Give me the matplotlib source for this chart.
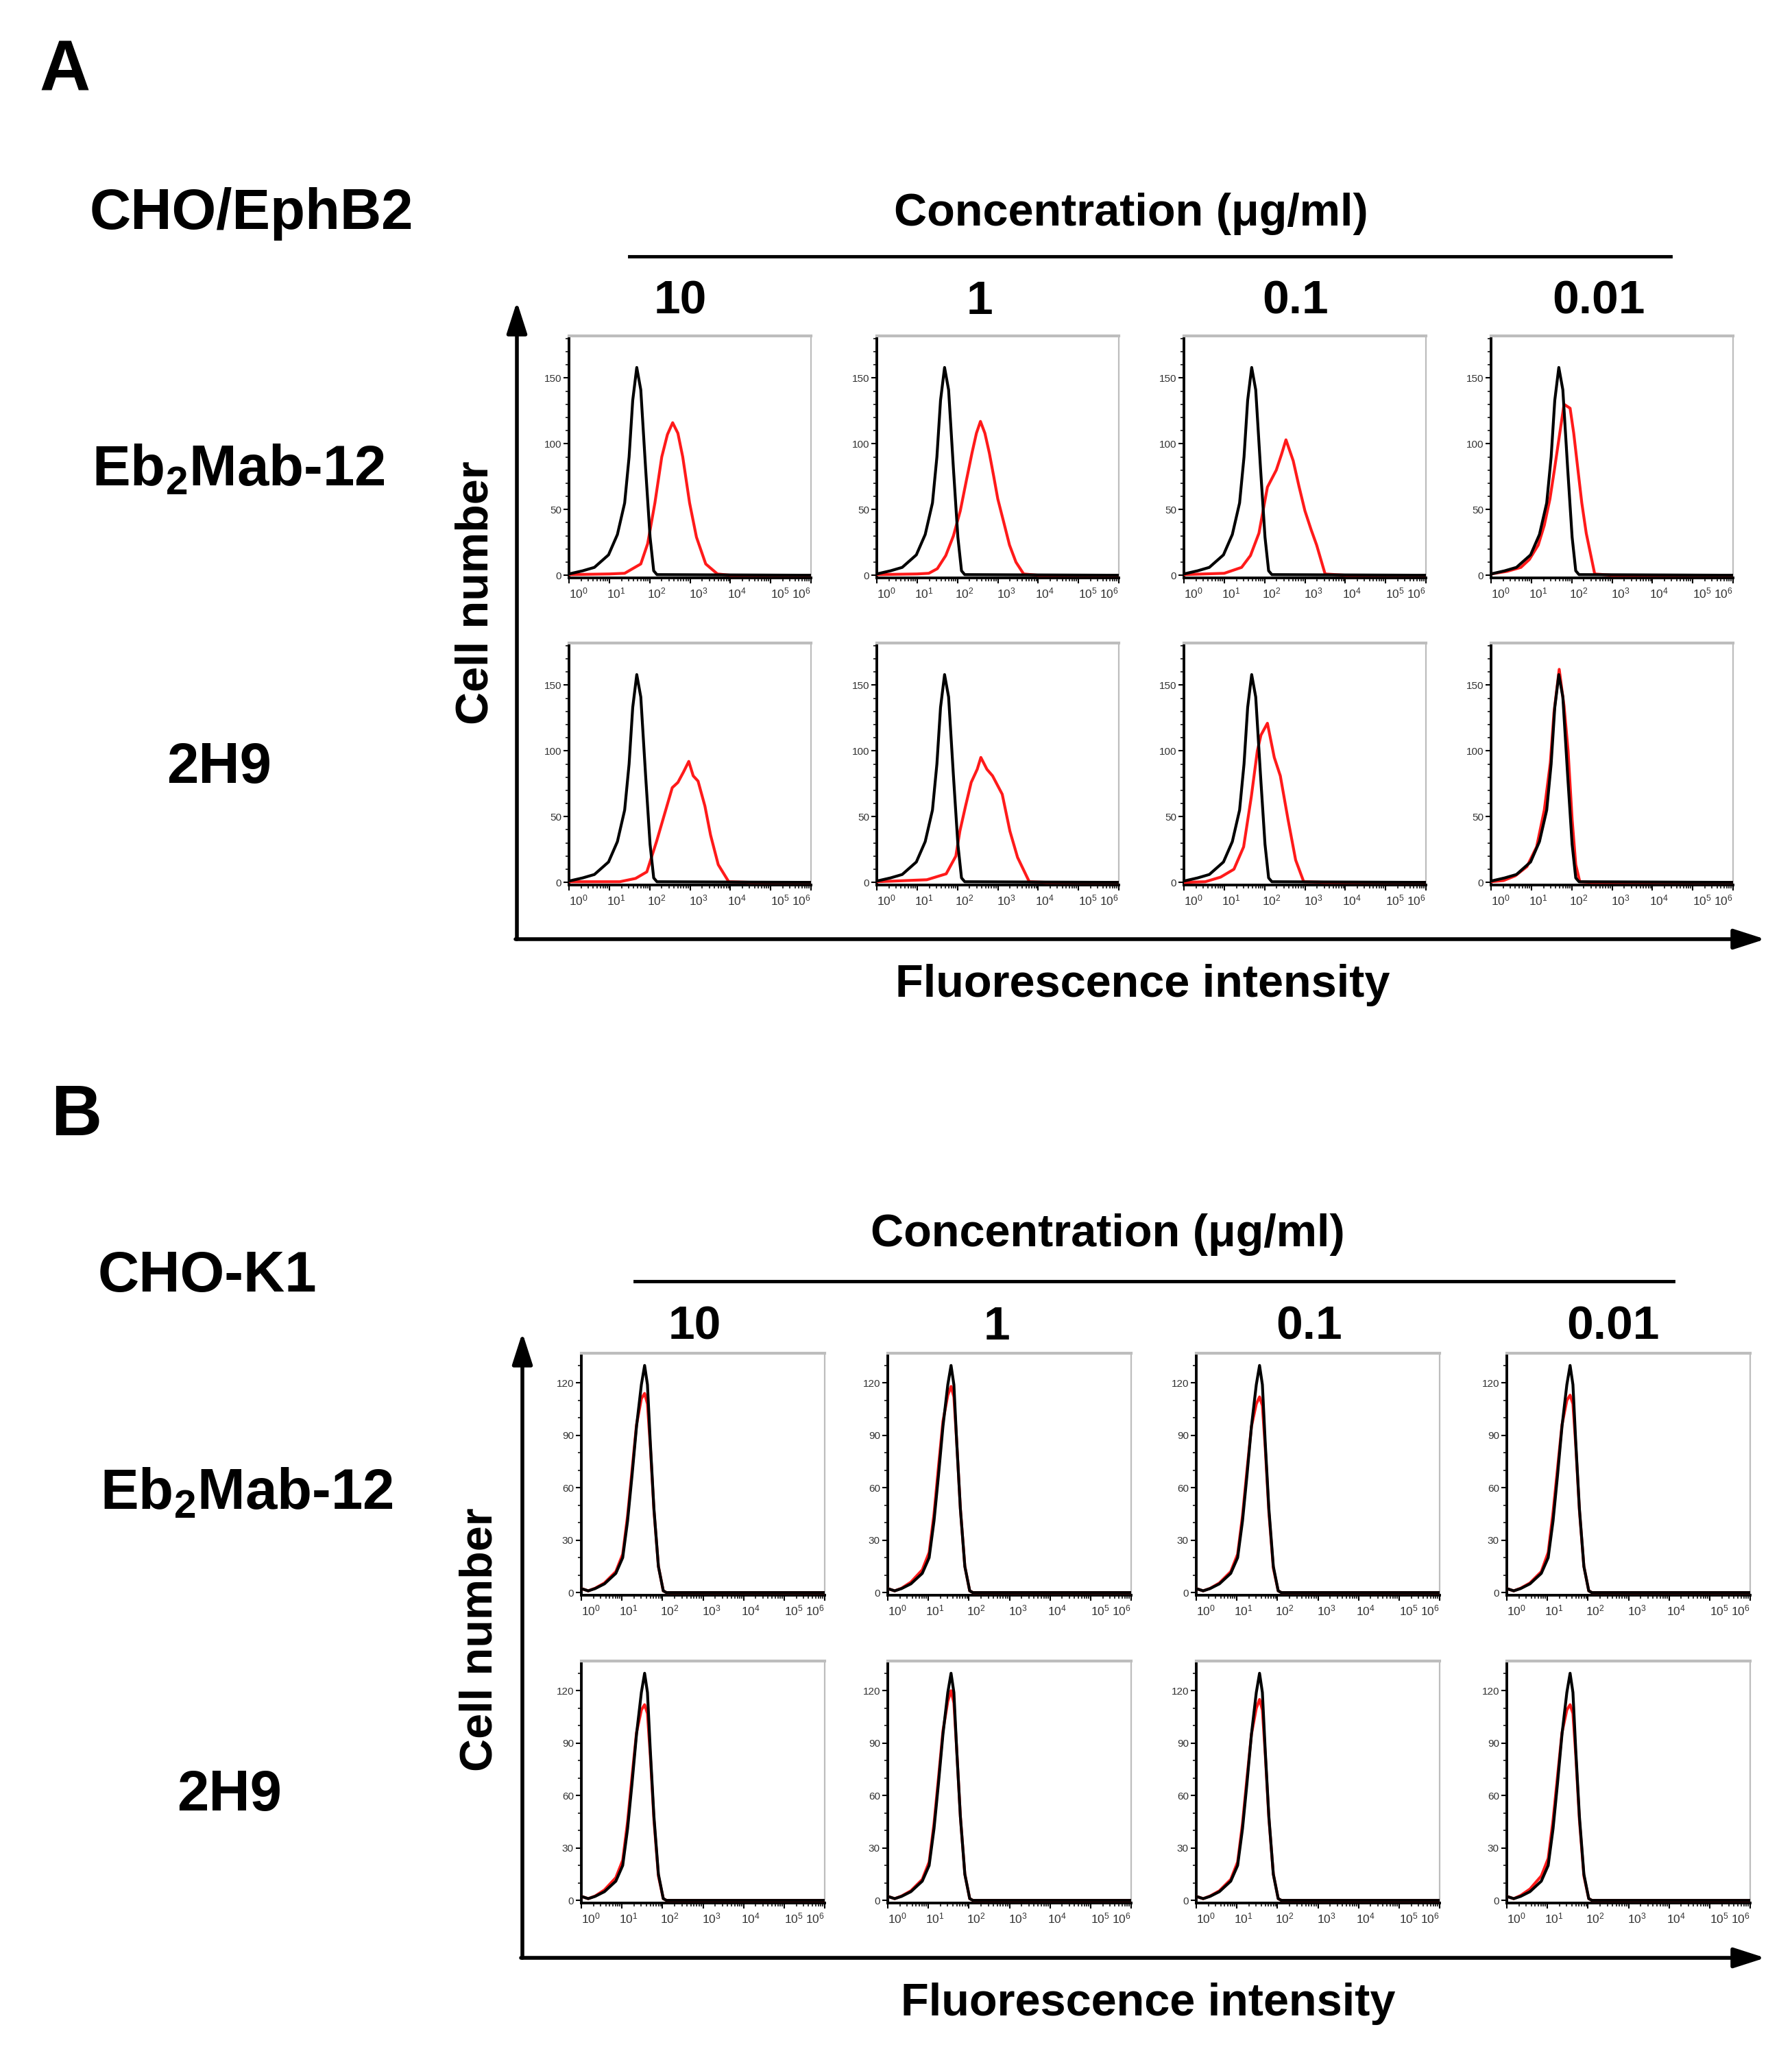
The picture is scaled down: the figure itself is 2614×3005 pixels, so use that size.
import numpy as np
import matplotlib
matplotlib.use('Agg')
import matplotlib.pyplot as plt
from matplotlib.ticker import FixedLocator, MultipleLocator, LogLocator, NullFormatter
from matplotlib.transforms import ScaledTranslation
from matplotlib.patches import FancyArrowPatch

plt.rcParams['font.family'] = ['Liberation Sans', 'DejaVu Sans']
plt.rcParams['mathtext.fontset'] = 'custom'
plt.rcParams['mathtext.rm'] = 'Liberation Sans'
plt.rcParams['mathtext.bf'] = 'Liberation Sans:bold'
plt.rcParams['mathtext.it'] = 'Liberation Sans:italic'

# ---------------- data ----------------
concentrations = ['10', '1', '0.1', '0.01']
antibodies = ['Eb$_\\mathbf{2}$Mab-12', '2H9']
cell_lines = ['CHO/EphB2', 'CHO-K1']
a_yticks = [0, 50, 100, 150]
b_yticks = [0, 30, 60, 90, 120]
x_decades = [0, 1, 2, 3, 4, 5, 6]

# x values are log10(fluorescence intensity)
# Panel A, control (black) curve, same in every panel
a_ctrl_x = [0.0, 0.34, 0.63, 0.98, 1.2, 1.38, 1.49, 1.58, 1.68, 1.78, 1.9, 2.01, 2.1, 2.18, 6.0]
a_ctrl_y = [1, 3.4, 6, 15.5, 31, 55, 90, 133, 158, 141, 81, 29, 3.4, 0.5, 0]

# Panel A, antibody (red) curves: row Eb2Mab-12
a_r1c1_x = [0.0, 1.0, 1.38, 1.78, 1.95, 2.13, 2.3, 2.44, 2.57, 2.7, 2.82, 2.99, 3.16, 3.39, 3.68, 4.0, 6.0]
a_r1c1_y = [0.5, 1, 1.5, 8.6, 24, 55, 90, 107, 116, 108, 90, 55, 29, 8.6, 1, 0, 0]
a_r1c2_x = [0.0, 1.0, 1.29, 1.5, 1.71, 1.9, 2.07, 2.22, 2.36, 2.47, 2.57, 2.68, 2.79, 2.9, 3.0, 3.15, 3.29, 3.45, 3.64, 4.0, 6.0]
a_r1c2_y = [0.5, 1, 1.5, 5, 15, 30, 49, 72, 93, 108, 117, 108, 93, 75, 58, 40, 23, 10, 1, 0, 0]
a_r1c3_x = [0.0, 1.0, 1.43, 1.65, 1.86, 2.07, 2.29, 2.42, 2.53, 2.62, 2.71, 2.85, 3.0, 3.15, 3.29, 3.5, 4.0, 6.0]
a_r1c3_y = [0.5, 1.5, 6, 15, 32, 67, 80, 92, 103, 95, 87, 68, 49, 35, 23, 1, 0, 0]
a_r1c4_x = [0.0, 0.4, 0.74, 0.95, 1.17, 1.32, 1.46, 1.57, 1.67, 1.81, 1.96, 2.05, 2.14, 2.25, 2.36, 2.57, 3.0, 6.0]
a_r1c4_y = [1, 3, 6, 12, 23, 38, 58, 80, 101, 130, 127, 108, 84, 55, 32, 1, 0, 0]
# Panel A, antibody (red) curves: row 2H9
a_r2c1_x = [0.0, 1.26, 1.65, 1.93, 2.17, 2.36, 2.56, 2.7, 2.84, 2.97, 3.08, 3.2, 3.37, 3.51, 3.7, 3.96, 4.5, 6.0]
a_r2c1_y = [0.5, 0.5, 3, 8, 31, 51, 72, 76, 84, 92, 81, 77, 58, 36, 13.5, 0.5, 0, 0]
a_r2c2_x = [0.0, 1.24, 1.72, 1.96, 2.06, 2.2, 2.34, 2.49, 2.58, 2.73, 2.87, 3.11, 3.3, 3.49, 3.78, 4.2, 6.0]
a_r2c2_y = [0.5, 2, 6.5, 20, 39, 58, 76, 86, 95, 86, 81, 67, 39, 19, 0.5, 0, 0]
a_r2c3_x = [0.0, 0.53, 0.91, 1.24, 1.48, 1.67, 1.82, 1.91, 2.07, 2.24, 2.39, 2.58, 2.77, 2.97, 3.5, 6.0]
a_r2c3_y = [0, 0.5, 4, 10, 27, 65, 100, 112, 121, 95, 81, 48, 17, 0.5, 0, 0]
a_r2c4_x = [0.0, 0.31, 0.6, 0.89, 1.13, 1.32, 1.47, 1.56, 1.69, 1.81, 1.91, 2.01, 2.1, 2.2, 2.5, 6.0]
a_r2c4_y = [0.5, 1.4, 5, 12, 27, 55, 91, 129, 162, 134, 100, 48, 13.5, 0.5, 0, 0]

# Panel B, control (black) curve
b_ctrl_x = [0.0, 0.17, 0.34, 0.57, 0.85, 1.02, 1.14, 1.25, 1.36, 1.48, 1.56, 1.63, 1.7, 1.79, 1.9, 2.02, 2.1, 6.0]
b_ctrl_y = [2.3, 1, 2.3, 5, 11, 20, 41, 67, 95, 119, 130, 119, 86, 48, 15, 1, 0, 0]
# Panel B, antibody (red) curves
b_red_x = [0.0, 0.17, 0.34, 0.57, 0.85, 1.02, 1.14, 1.25, 1.36, 1.48, 1.56, 1.63, 1.7, 1.79, 1.9, 2.02, 2.1, 6.0]
b_r1c1_y = [2.3, 1, 2.5, 5.5, 12, 22, 44, 70, 96, 111, 114, 108, 84, 47, 15, 1, 0, 0]
b_r1c2_y = [2.3, 1, 2.5, 6, 13, 23, 45, 72, 98, 113, 118, 112, 86, 48, 15, 1, 0, 0]
b_r1c3_y = [2.3, 1, 2.4, 5.5, 12, 22, 44, 70, 95, 108, 112, 107, 83, 46, 14, 1, 0, 0]
b_r1c4_y = [2.3, 1, 2.5, 5.5, 12, 23, 46, 71, 96, 110, 113, 108, 84, 47, 15, 1, 0, 0]
b_r2c1_y = [2.3, 1, 2.5, 6, 13, 23, 45, 71, 96, 109, 112, 107, 83, 46, 14, 1, 0, 0]
b_r2c2_y = [2.3, 1, 2.5, 5.5, 12, 22, 44, 70, 97, 114, 120, 113, 86, 48, 15, 1, 0, 0]
b_r2c3_y = [2.3, 1, 2.5, 5.5, 12, 22, 44, 70, 95, 110, 115, 109, 84, 47, 15, 1, 0, 0]
b_r2c4_y = [2.3, 1, 2.8, 6.5, 14, 24, 46, 71, 96, 109, 112, 107, 83, 46, 14, 1, 0, 0]

a_red = [[(a_r1c1_x, a_r1c1_y), (a_r1c2_x, a_r1c2_y), (a_r1c3_x, a_r1c3_y), (a_r1c4_x, a_r1c4_y)],
         [(a_r2c1_x, a_r2c1_y), (a_r2c2_x, a_r2c2_y), (a_r2c3_x, a_r2c3_y), (a_r2c4_x, a_r2c4_y)]]
b_red = [[(b_red_x, b_r1c1_y), (b_red_x, b_r1c2_y), (b_red_x, b_r1c3_y), (b_red_x, b_r1c4_y)],
         [(b_red_x, b_r2c1_y), (b_red_x, b_r2c2_y), (b_red_x, b_r2c3_y), (b_red_x, b_r2c4_y)]]

# ---------------- figure ----------------
W, H = 2614, 3005
DPI = 100
fig = plt.figure(figsize=(W / DPI, H / DPI), dpi=DPI)
fig.patch.set_facecolor('white')

ov = fig.add_axes([0, 0, 1, 1])
ov.set_xlim(0, W)
ov.set_ylim(H, 0)
ov.axis('off')


def add_panel(left, top, w, h, ctrl, red, yticks, ylim):
    ax = fig.add_axes([left / W, 1 - (top + h) / H, w / W, h / H])
    rx = [10 ** v for v in red[0]]
    cx = [10 ** v for v in ctrl[0]]
    ax.plot(rx, red[1], color='#ff1a1a', lw=3.0, zorder=3, solid_joinstyle='round')
    ax.plot(cx, ctrl[1], color='black', lw=3.0, zorder=4, solid_joinstyle='round')
    ax.set_xscale('log')
    ax.set_xlim(1, 1e6)
    ax.set_ylim(*ylim)
    ax.xaxis.set_major_locator(FixedLocator([10 ** d for d in x_decades]))
    ax.xaxis.set_minor_locator(LogLocator(base=10, subs=np.arange(2, 10), numticks=100))
    ax.xaxis.set_minor_formatter(NullFormatter())
    ax.set_xticklabels(['$10^{%d}$' % d for d in x_decades])
    ax.yaxis.set_major_locator(FixedLocator(yticks))
    ax.yaxis.set_minor_locator(MultipleLocator(10))
    ax.tick_params(axis='both', which='major', length=6, width=1.5, direction='out',
                   labelsize=11, colors='black', labelcolor='#333333', pad=2)
    ax.tick_params(axis='both', which='minor', length=3.5, width=1.1, direction='out')
    ax.tick_params(axis='x', labelsize=12.5, pad=3)
    offs = [14, 10, 10, 12, 10, 14, -14]
    for lab, dx in zip(ax.get_xticklabels(), offs):
        lab.set_transform(lab.get_transform() + ScaledTranslation(dx / DPI, 0, fig.dpi_scale_trans))
    for s in ['left', 'bottom']:
        ax.spines[s].set_color('black')
        ax.spines[s].set_linewidth(2.8)
    ax.spines['top'].set_color('#bdbdbd')
    ax.spines['top'].set_linewidth(3.0)
    ax.spines['right'].set_color('#bdbdbd')
    ax.spines['right'].set_linewidth(1.6)
    return ax


def arrow(x0, y0, x1, y1):
    p = FancyArrowPatch((x0, y0), (x1, y1), arrowstyle='-|>,head_length=1.4,head_width=0.45',
                        mutation_scale=20, lw=4, color='black', shrinkA=0, shrinkB=0)
    ov.add_patch(p)


bold = dict(fontweight='bold', color='black')

# ---- section A ----
ov.text(95, 105, 'A', fontsize=74, ha='center', va='center', **bold)
ov.text(367, 312, cell_lines[0], fontsize=60, ha='center', va='center', **bold)
ov.text(1650, 312, 'Concentration (\u03bcg/ml)', fontsize=48, ha='center', va='center', **bold)
ov.plot([918, 2437], [374, 374], color='black', lw=3.5)
for xc, lab in zip([992, 1429, 1890, 2332], concentrations):
    ov.text(xc, 440, lab, fontsize=50, ha='center', va='center', **bold)
for yc, xc, lab in zip([687, 1120], [348, 320], antibodies):
    ov.text(xc, yc, lab, fontsize=60, ha='center', va='center', **bold)
ov.text(695, 865, 'Cell number', fontsize=48, rotation=90, ha='center', va='center', **bold)
ov.text(1667, 1437, 'Fluorescence intensity', fontsize=48, ha='center', va='center', **bold)
arrow(754, 1370, 754, 440)
arrow(752, 1370, 2575, 1370)

a_lefts = [830, 1279, 1727, 2175]
a_tops = [490, 938]
for r in range(2):
    for c in range(4):
        add_panel(a_lefts[c], a_tops[r], 353, 353, (a_ctrl_x, a_ctrl_y), a_red[r][c],
                  a_yticks, (-2, 182))

# ---- section B ----
ov.text(111, 1630, 'B', fontsize=74, ha='center', va='center', **bold)
ov.text(302, 1862, cell_lines[1], fontsize=60, ha='center', va='center', **bold)
ov.text(1616, 1801, 'Concentration (\u03bcg/ml)', fontsize=48, ha='center', va='center', **bold)
ov.plot([926, 2441], [1869, 1869], color='black', lw=3.5)
for xc, lab in zip([1013, 1454, 1910, 2353], concentrations):
    ov.text(xc, 1936, lab, fontsize=50, ha='center', va='center', **bold)
for yc, xc, lab in zip([2180, 2619], [360, 335], antibodies):
    ov.text(xc, yc, lab, fontsize=60, ha='center', va='center', **bold)
ov.text(700, 2392, 'Cell number', fontsize=48, rotation=90, ha='center', va='center', **bold)
ov.text(1675, 2923, 'Fluorescence intensity', fontsize=48, ha='center', va='center', **bold)
arrow(762, 2856, 762, 1944)
arrow(760, 2856, 2575, 2856)

b_lefts = [848, 1295, 1745, 2198]
b_tops = [1974, 2423]
for r in range(2):
    for c in range(4):
        add_panel(b_lefts[c], b_tops[r], 355, 353, (b_ctrl_x, b_ctrl_y), b_red[r][c],
                  b_yticks, (-1.5, 137))

fig.savefig('out.png', dpi=DPI, facecolor='white')
